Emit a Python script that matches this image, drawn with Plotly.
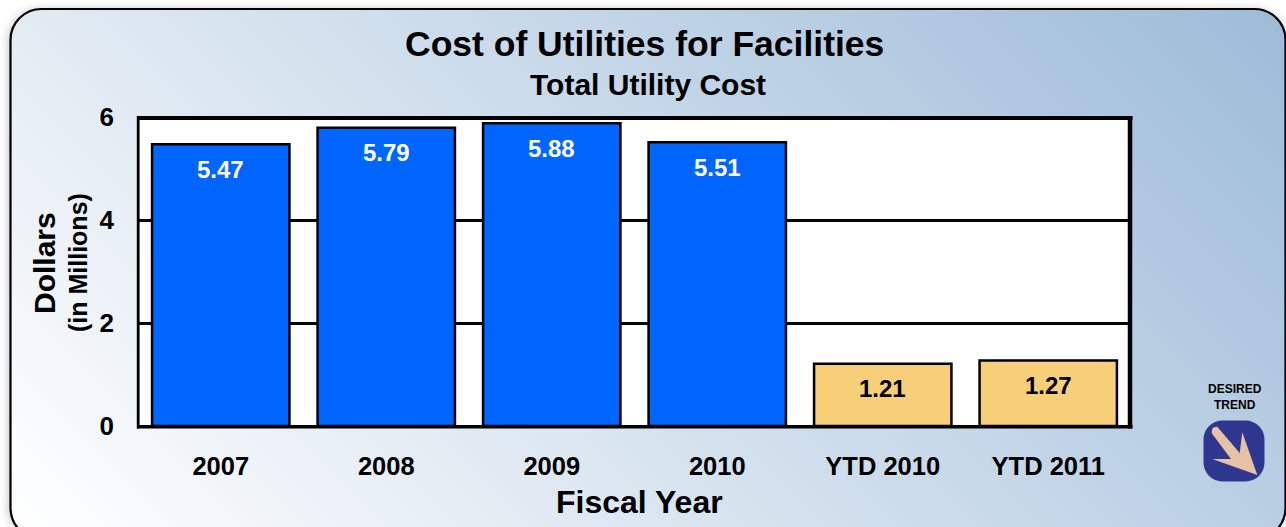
import base64
import plotly.graph_objects as go

categories = ["2007", "2008", "2009", "2010", "YTD 2010", "YTD 2011"]
values = [5.47, 5.79, 5.88, 5.51, 1.21, 1.27]
bar_colors = ["#0066ff"] * 4 + ["#f6cf78"] * 2
label_colors = ["#ffffff"] * 4 + ["#000000"] * 2
y_ticks = [0, 2, 4, 6]
W, H = 1286, 527
FONT = "Liberation Sans"
L, R, T, B = 138, 1131, 117, 426

bg = f'''<svg xmlns="http://www.w3.org/2000/svg" width="{W}" height="{H}" viewBox="0 0 {W} {H}">
<defs><linearGradient id="g" gradientUnits="userSpaceOnUse" x1="10" y1="527" x2="906.5" y2="-369.5">
<stop offset="0" stop-color="#ffffff"/><stop offset="1" stop-color="#9dbbd8"/></linearGradient>
<filter id="s" x="-5%" y="-5%" width="110%" height="110%"><feGaussianBlur stdDeviation="5"/></filter></defs>
<rect width="{W}" height="{H}" fill="#ffffff"/>
<rect x="8" y="9" width="1278" height="530" rx="32" fill="#000000" opacity="0.22" filter="url(#s)"/>
<rect x="10.5" y="9" width="1275" height="530" rx="31" fill="url(#g)" stroke="#000000" stroke-width="2.2"/>
<g transform="translate(1203 420)"><rect x="0.5" y="0.5" width="61" height="61" rx="19" fill="#2e368f"/>
<path d="M14.3 6.7 L36.7 33 L39.3 12.3 L54.3 55 L9.3 39 L28 39 L8.7 13.3 Q8 6 14.3 6.7 Z" fill="#e6c2a4"/></g>
</svg>'''
src = "data:image/svg+xml;base64," + base64.b64encode(bg.encode()).decode()

fig = go.Figure(go.Bar(
    x=categories, y=values, width=0.83,
    marker=dict(color=bar_colors, line=dict(color="#000000", width=2.5)),
    hoverinfo="skip",
))

ann = []
for i, (v, col) in enumerate(zip(values, label_colors)):
    ann.append(dict(x=i, y=v, xref="x", yref="y", yshift=-25, text=f"<b>{v:.2f}</b>", showarrow=False,
                    font=dict(family=FONT, size=24, color=col)))


def px(x):
    return (x - L) / (R - L)


def py(y):
    return (B - y) / (B - T)


def txt(x, y, s, size, angle=0, family=FONT):
    return dict(x=px(x), y=py(y), xref="paper", yref="paper", text=f"<b>{s}</b>",
                showarrow=False, xanchor="center", yanchor="middle", textangle=angle,
                font=dict(family=family, size=size, color="#000000"))


ann += [
    txt(644, 44, "Cost of Utilities for Facilities", 35.5),
    txt(648, 85, "Total Utility Cost", 30),
    txt(639, 502, "Fiscal Year", 32),
    txt(44, 263, "Dollars", 30, -90),
    txt(78, 263, "(in Millions)", 25, -90),
    txt(1234.5, 389, "DESIRED", 12),
    txt(1234.5, 405, "TREND", 12),
]


def frame(x0, y0, x1, y1, width):
    return dict(type="line", xref="paper", yref="paper", x0=px(x0), y0=py(y0), x1=px(x1), y1=py(y1),
                line=dict(color="#000000", width=width), layer="above")


shapes = [
    dict(type="rect", xref="paper", yref="paper", x0=0, y0=0, x1=1, y1=1, fillcolor="#ffffff",
         line=dict(width=0), layer="below"),
    frame(137, 118, 1132.5, 118, 4),
    frame(138.2, 116, 138.2, 428.5, 2.8),
    frame(1130, 116, 1130, 428.5, 4.5),
    frame(137, 426.8, 1132.5, 426.8, 3.5),
]

fig.update_layout(
    width=W, height=H, autosize=False, showlegend=False,
    margin=dict(l=L, r=W - R, t=T, b=H - B, pad=0),
    paper_bgcolor="rgba(0,0,0,0)", plot_bgcolor="#ffffff",
    font=dict(family=FONT, color="#000000"),
    images=[dict(source=src, xref="paper", yref="paper", x=-L / (R - L), y=1 + T / (B - T),
                 sizex=W / (R - L), sizey=H / (B - T), xanchor="left", yanchor="top",
                 sizing="stretch", layer="below")],
    annotations=ann,
    shapes=shapes,
    xaxis=dict(type="category", range=[-0.5, 5.5], showline=False,
               showgrid=False, ticks="", ticklabelstandoff=22,
               tickfont=dict(family=FONT, size=25.5, color="#000000", weight="bold")),
    yaxis=dict(range=[0, 6], tickvals=y_ticks, showline=False,
               showgrid=True, gridcolor="#000000", gridwidth=2.5, zeroline=False, ticks="", ticklabelstandoff=23,
               tickfont=dict(family=FONT, size=26, color="#000000", weight="bold")),
)

fig.write_html("out.html", config={"displayModeBar": False},
               post_script="document.body.style.margin='0';document.body.style.overflow='hidden';")
